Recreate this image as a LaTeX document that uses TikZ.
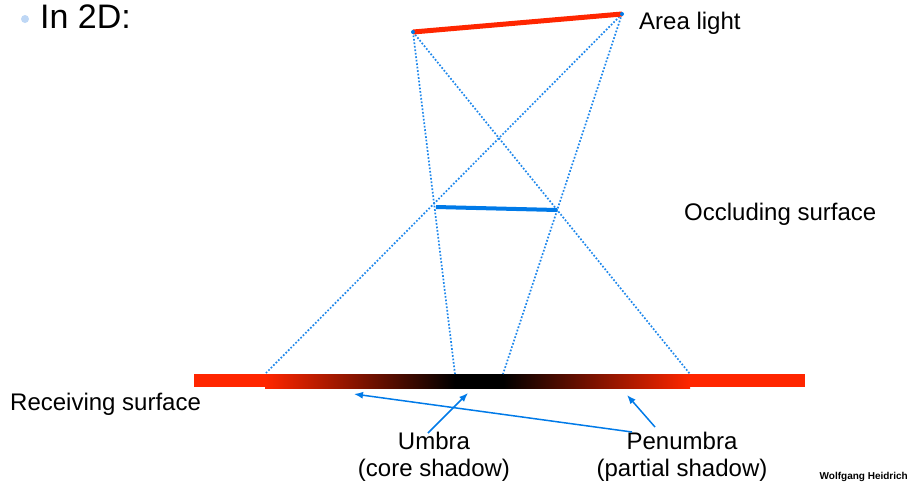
\documentclass[tikz,border=0pt]{standalone}
\usepackage{fontspec}
\setmainfont{Liberation Sans}
\usetikzlibrary{arrows.meta}
\definecolor{lightred}{RGB}{255,38,0}
\definecolor{occblue}{RGB}{0,122,232}
\definecolor{raydot}{RGB}{30,135,235}
\definecolor{bulletblue}{RGB}{190,215,245}

\begin{document}
\begin{tikzpicture}[x=1pt,y=-1pt,
  label/.style={font=\fontsize{24}{27}\selectfont,inner sep=0pt},
  ray/.style={raydot,line width=1.7pt,dash pattern=on 1.7pt off 1.8pt},
  pointer/.style={occblue,line width=1.5pt,-{Latex[length=9pt,width=7pt]}}
]
  \useasboundingbox (0,0) rectangle (910,483);
  \coordinate (lightL) at (413,32);
  \coordinate (lightR) at (622,14);
  \coordinate (occL) at (436,207);
  \coordinate (occR) at (557,210);
  \coordinate (penL) at (265,374);
  \coordinate (umbL) at (455,374);
  \coordinate (umbR) at (503,374);
  \coordinate (penR) at (690,374);
  \coordinate (penLtip) at (354,394);
  \coordinate (umbtip) at (468,393);
  \coordinate (penRtip) at (627,395);
  \coordinate (umbtail) at (428,433);
  \coordinate (pentailA) at (632,432);
  \coordinate (pentailB) at (655,427);
  \fill[bulletblue] (25,19) circle (4);
  \node[label,font=\fontsize{34}{38}\selectfont,anchor=west] (title) at (40,17) {In 2D:};
  \node[label,anchor=west] (arealight) at (639,23) {Area light};
  \node[label,anchor=west] (occluding) at (684,214) {Occluding surface};
  \node[label,anchor=west] (receiving) at (10,404) {Receiving surface};
  \node[label,align=center] (umbra) at (434,457) {Umbra\\(core shadow)};
  \node[label,align=center] (penumbra) at (682,457) {Penumbra\\(partial shadow)};
  \node[inner sep=0pt,anchor=east,font=\fontsize{10}{12}\selectfont\bfseries] (author) at (908,477) {Wolfgang Heidrich};
  \fill[lightred] (194,374) rectangle (805,387);
  \shade[left color=lightred,right color=black] (penL) rectangle (455,388);
  \fill[black] (umbL) rectangle (503,389);
  \shade[left color=black,right color=lightred] (umbR) rectangle (690,388);
  \draw[ray] (lightL) -- (umbL);
  \draw[ray] (lightL) -- (penR);
  \draw[ray] (lightR) -- (penL);
  \draw[ray] (lightR) -- (umbR);
  \draw[lightred,line width=5pt] (lightL) -- (lightR);
  \draw[occblue,line width=4pt] (occL) -- (occR);
  \fill[occblue] (lightL) circle (2);
  \fill[occblue] (lightR) circle (2);
  \draw[pointer] (umbtail) -- (umbtip);
  \draw[pointer] (pentailA) -- (penLtip);
  \draw[pointer] (pentailB) -- (penRtip);
\end{tikzpicture}
\end{document}
